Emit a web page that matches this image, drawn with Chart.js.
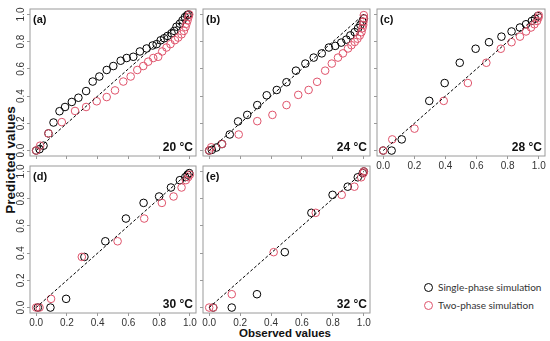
<!DOCTYPE html>
<html>
<head>
<meta charset="utf-8">
<title>Observed vs predicted</title>
<script src="https://cdn.jsdelivr.net/npm/chart.js"></script>
<style>
  body { margin: 0; background: #fff; }
  #wrap { position: relative; width: 550px; height: 341px; overflow: hidden; font-family: "Liberation Sans", Arial, sans-serif; }
  canvas { position: absolute; }
  .axis-title { position: absolute; font-weight: bold; font-size: 11.5px; color: #111; white-space: nowrap; transform: translate(-50%, -50%); }
  #ytitle { font-size: 13.5px; transform: translate(-50%, -50%) rotate(-90deg); }
  .leg { position: absolute; font-family: Lato, "Open Sans", sans-serif; font-size: 10px; color: #333; white-space: nowrap; line-height: 12px; }
  .leg span { display: inline-block; width: 7px; height: 7px; border: 1px solid; border-radius: 50%; margin-right: 5px; vertical-align: -1px; }
</style>
</head>
<body>
<div id="wrap">
  <div class="axis-title" id="ytitle" style="left:10px; top:160px;">Predicted values</div>
  <div class="axis-title" style="left:285px; top:333px;">Observed values</div>
</div>
<script>
// tick labels, series names, panel labels
const TICKS = [0, 0.2, 0.4, 0.6, 0.8, 1];
const SERIES = ['Single-phase simulation', 'Two-phase simulation'];
const TAGS = ['(a)', '(b)', '(c)', '(d)', '(e)'];
const TEMPS = ['20 °C', '24 °C', '28 °C', '30 °C', '32 °C'];

// [observed, predicted] pairs
const singleA = [[0,0],[0.022,0.01],[0.048,0.036],[0.08,0.126],[0.113,0.206],[0.152,0.289],[0.188,0.32],
  [0.232,0.357],[0.275,0.388],[0.325,0.437],[0.368,0.507],[0.411,0.544],[0.459,0.592],[0.502,0.621],
  [0.55,0.66],[0.589,0.68],[0.632,0.689],[0.675,0.728],[0.719,0.75],[0.758,0.772],[0.784,0.782],
  [0.81,0.81],[0.833,0.825],[0.855,0.842],[0.881,0.862],[0.898,0.879],[0.913,0.91],[0.935,0.932],
  [0.952,0.956],[0.968,0.98],[0.983,0.995],[0.991,1.0]];
const twoA = [[0,0],[0.026,0.036],[0.08,0.126],[0.167,0.209],[0.253,0.291],[0.325,0.32],[0.394,0.362],
  [0.459,0.393],[0.513,0.442],[0.567,0.507],[0.615,0.544],[0.658,0.592],[0.697,0.621],[0.729,0.653],
  [0.762,0.68],[0.794,0.689],[0.82,0.728],[0.848,0.757],[0.874,0.782],[0.903,0.811],[0.924,0.83],
  [0.946,0.854],[0.961,0.879],[0.972,0.908],[0.978,0.932],[0.985,0.956],[0.991,0.981],[0.996,1.0]];

const singleB = [[0,0],[0.017,0.005],[0.046,0.022],[0.083,0.048],[0.133,0.118],[0.187,0.214],[0.246,0.262],
  [0.311,0.334],[0.372,0.406],[0.437,0.445],[0.5,0.502],[0.561,0.587],[0.622,0.639],[0.676,0.683],
  [0.728,0.714],[0.774,0.757],[0.815,0.769],[0.854,0.793],[0.887,0.815],[0.913,0.846],[0.941,0.87],
  [0.963,0.899],[0.978,0.923],[0.991,0.947],[1.0,0.971]];
const twoB = [[0,0],[0.013,0.024],[0.083,0.048],[0.191,0.118],[0.311,0.216],[0.409,0.262],[0.5,0.334],
  [0.576,0.409],[0.643,0.445],[0.698,0.505],[0.75,0.587],[0.793,0.639],[0.833,0.683],[0.865,0.714],
  [0.898,0.75],[0.92,0.774],[0.941,0.798],[0.959,0.822],[0.974,0.846],[0.985,0.87],[0.991,0.899],
  [0.996,0.923],[0.998,0.947],[1.0,0.971],[1.0,0.995]];

const singleC = [[0,0],[0.054,0],[0.119,0.082],[0.296,0.365],[0.395,0.496],[0.492,0.645],[0.594,0.748],
  [0.68,0.796],[0.76,0.837],[0.825,0.875],[0.879,0.904],[0.918,0.928],[0.955,0.952],[0.976,0.969],[0.994,0.988]];
const twoC = [[0,0],[0.058,0.082],[0.201,0.161],[0.389,0.365],[0.544,0.496],[0.663,0.645],[0.756,0.748],
  [0.825,0.796],[0.879,0.837],[0.918,0.875],[0.95,0.904],[0.972,0.928],[0.989,0.952],[0.998,0.976],[1.0,0.993]];

const singleD = [[0.011,0],[0.093,0],[0.195,0.064],[0.314,0.372],[0.45,0.487],[0.584,0.654],[0.699,0.769],
  [0.8,0.816],[0.877,0.882],[0.935,0.936],[0.97,0.958],[0.985,0.976],[0.996,0.988]];
const twoD = [[0,0],[0.022,0],[0.097,0.064],[0.297,0.372],[0.53,0.487],[0.703,0.654],[0.818,0.769],
  [0.894,0.816],[0.946,0.882],[0.974,0.936],[0.989,0.958],[1.0,0.976]];

const singleE = [[0.026,0],[0.146,0],[0.309,0.098],[0.489,0.407],[0.661,0.696],[0.798,0.828],
  [0.896,0.888],[0.961,0.957],[0.993,0.988],[1.0,1.0]];
const twoE = [[0,0],[0.026,0],[0.146,0.098],[0.417,0.407],[0.689,0.696],[0.857,0.828],
  [0.939,0.888],[0.983,0.957],[0.998,0.988],[1.0,1.0]];

const SINGLE = [singleA, singleB, singleC, singleD, singleE];
const TWO = [twoA, twoB, twoC, twoD, twoE];

const BLACK = '#000000';
const RED = '#DF536B';
const FRAME = '#9a9a9a';

// plot boxes on the page
const BOXES = [
  { l: 30, t: 6, r: 196, b: 156, xLab: false, yLab: true },
  { l: 203, t: 6, r: 370, b: 156, xLab: false, yLab: false },
  { l: 377, t: 6, r: 545, b: 156, xLab: true, yLab: false },
  { l: 30, t: 163, r: 196, b: 313, xLab: true, yLab: true },
  { l: 203, t: 163, r: 370, b: 313, xLab: true, yLab: false }
];
const ML = 30, MT = 2, MR = 10, MB = 20;

Chart.defaults.font.family = '"Liberation Sans", Arial, sans-serif';

const framePlugin = {
  id: 'frame',
  beforeDatasetsDraw(chart) {
    const a = chart.chartArea, ctx = chart.ctx;
    ctx.save();
    ctx.strokeStyle = FRAME;
    ctx.lineWidth = 1;
    ctx.strokeRect(a.left, a.top, a.right - a.left, a.bottom - a.top);
    ctx.restore();
  },
  afterDraw(chart, args, opts) {
    const a = chart.chartArea, ctx = chart.ctx;
    ctx.save();
    ctx.fillStyle = '#111';
    ctx.font = 'bold 11px "Liberation Sans", Arial, sans-serif';
    ctx.textAlign = 'left';
    ctx.textBaseline = 'middle';
    ctx.fillText(opts.tag, a.left + 3, a.top + 11);
    ctx.font = 'bold 12px "Liberation Sans", Arial, sans-serif';
    ctx.textAlign = 'right';
    ctx.textBaseline = 'alphabetic';
    ctx.fillText(opts.temp, a.right - 3, a.bottom - 5.5);
    if (opts.yLab) {
      const y = chart.scales.y;
      ctx.font = '10px "Liberation Sans", Arial, sans-serif';
      ctx.fillStyle = '#333';
      ctx.textAlign = 'center';
      ctx.textBaseline = 'middle';
      TICKS.forEach(v => {
        ctx.save();
        ctx.translate(a.left - 9, y.getPixelForValue(v));
        ctx.rotate(-Math.PI / 2);
        ctx.fillText(v.toFixed(1), 0, 0);
        ctx.restore();
      });
    }
    ctx.restore();
  }
};

function toPts(arr) {
  return arr.map(p => ({ x: p[0], y: p[1] }));
}

function axis(showLabels, isX) {
  return {
    type: 'linear',
    min: -0.04,
    max: 1.04,
    afterBuildTicks: s => { s.ticks = TICKS.map(v => ({ value: v })); },
    afterFit: s => { if (isX) s.height = MB; else s.width = ML; },
    border: { display: false },
    grid: { drawOnChartArea: false, drawTicks: true, tickLength: 3, color: FRAME },
    ticks: {
      display: showLabels,
      padding: 1,
      color: '#333',
      font: { size: 10 },
      maxRotation: 0,
      autoSkip: false,
      callback: v => v.toFixed(1)
    }
  };
}

const wrap = document.getElementById('wrap');

BOXES.forEach((box, i) => {
  const cv = document.createElement('canvas');
  const w = box.r - box.l + ML + MR;
  const h = box.b - box.t + MT + MB;
  cv.width = w;
  cv.height = h;
  cv.style.left = (box.l - ML) + 'px';
  cv.style.top = (box.t - MT) + 'px';
  wrap.appendChild(cv);

  new Chart(cv, {
    type: 'scatter',
    data: {
      datasets: [
        { label: SERIES[0], data: toPts(SINGLE[i]), borderColor: BLACK, backgroundColor: 'rgba(0,0,0,0)',
          pointRadius: 3.8, borderWidth: 1, order: 2 },
        { label: SERIES[1], data: toPts(TWO[i]), borderColor: RED, backgroundColor: 'rgba(0,0,0,0)',
          pointRadius: 3.8, borderWidth: 1, order: 1 },
        { type: 'line', label: '1:1', data: [{ x: 0, y: 0 }, { x: 1, y: 1 }], borderColor: BLACK,
          borderWidth: 1, borderDash: [3, 2], pointRadius: 0, fill: false, order: 0 }
      ]
    },
    options: {
      responsive: false,
      animation: false,
      events: [],
      layout: { padding: { left: 0, top: MT, right: MR, bottom: 0 } },
      plugins: {
        legend: { display: false },
        tooltip: { enabled: false },
        frame: { tag: TAGS[i], temp: TEMPS[i], yLab: box.yLab }
      },
      scales: {
        x: axis(box.xLab, true),
        y: axis(false, false)
      }
    },
    plugins: [framePlugin]
  });
});

// legend
const LEG_X = 424, LEG_Y = [287, 304.5];
SERIES.forEach((name, i) => {
  const d = document.createElement('div');
  d.className = 'leg';
  d.style.left = LEG_X + 'px';
  d.style.top = (LEG_Y[i] - 6) + 'px';
  d.innerHTML = '<span style="border-color:' + (i === 0 ? BLACK : RED) + '"></span>' + name;
  wrap.appendChild(d);
});
</script>
</body>
</html>
